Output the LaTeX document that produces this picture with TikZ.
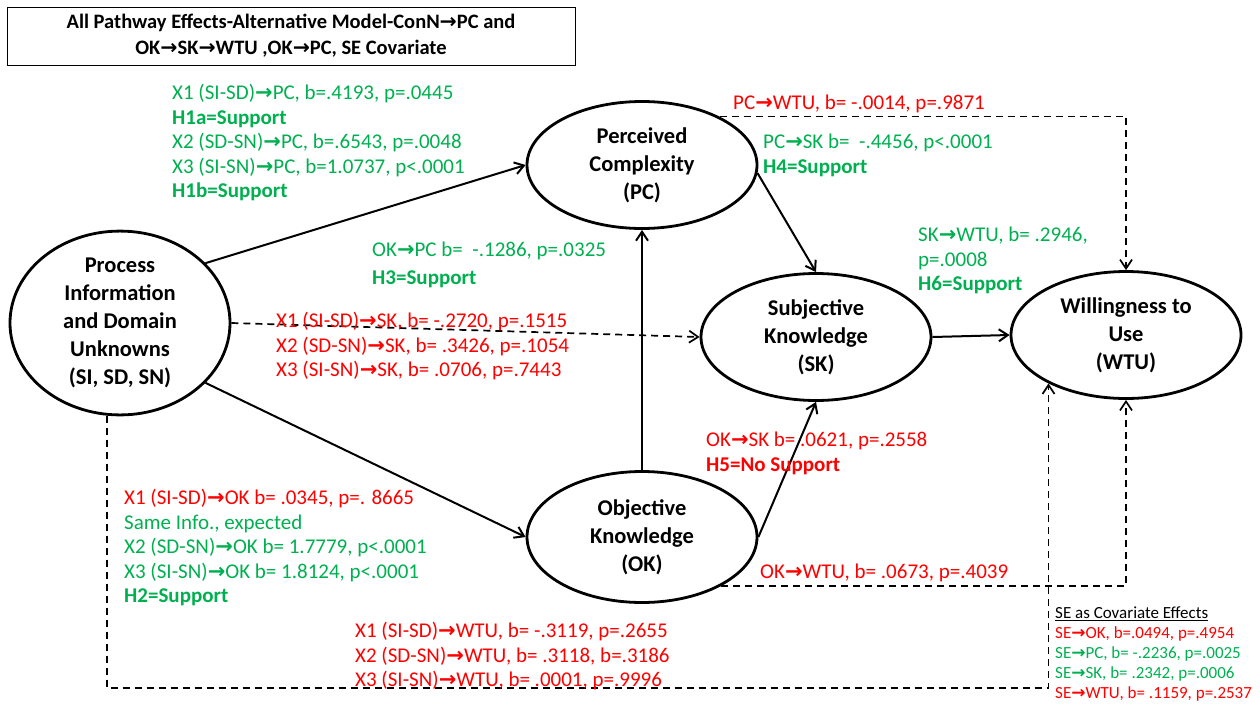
\documentclass[tikz,border=0pt]{standalone}
\usepackage{fontspec}
\setmainfont{Carlito}
\newfontfamily\arrowfont{DejaVu Sans}
\usepackage{xcolor}
\usetikzlibrary{arrows.meta, shapes.geometric, positioning}
\definecolor{SigGreen}{HTML}{00B050}
\definecolor{NsRed}   {HTML}{FF0000}
\newcommand{\ra}{{\arrowfont\bfseries\char"2192}}

\tikzset{
  construct/.style={ellipse, draw, line width=2.8pt, inner sep=0pt, align=center,
                    minimum width=230pt, minimum height=127pt,
                    font=\fontsize{22.5}{28}\selectfont\bfseries},
  effect/.style={line width=2pt, -{Straight Barb[length=9pt,width=12pt]}},
  nseffect/.style={effect, line width=1.7pt, dash pattern=on 7pt off 5pt},
  stat/.style={anchor=north west, inner sep=0pt, align=left,
               font=\fontsize{21}{24.5}\selectfont},
  sig/.style={stat, text=SigGreen},
  ns/.style={stat, text=NsRed},
}

\begin{document}
\begin{tikzpicture}[x=1pt, y=-1pt]
  \useasboundingbox (0,0) rectangle (1260,707);
  % Title
  \node[draw, line width=0.8pt, minimum width=568pt, minimum height=58pt, align=center,
        font=\fontsize{20.5}{26}\selectfont\bfseries] (title) at (291,36)
    {All Pathway Effects-Alternative Model-ConN\ra PC and\\OK\ra SK\ra WTU ,OK\ra PC, SE Covariate};
  % Constructs
  \node[construct, minimum width=220pt, minimum height=157pt] (pi) at (120,323)
    {Process\\Information\\and Domain\\Unknowns\\(SI, SD, SN)};
  \node[construct] (pc)  at (642,165)  {Perceived\\Complexity\\(PC)};
  \node[construct] (sk)  at (816,337)  {Subjective\\Knowledge\\(SK)};
  \node[construct] (wtu) at (1126,335) {Willingness to\\Use\\(WTU)};
  \node[construct, minimum height=131pt] (ok) at (642,537) {Objective\\Knowledge\\(OK)};
  \coordinate (covLine) at (600,688);
  % Paths
  \draw[effect] (pi.35) -- (pc.west);
  \draw[effect] (pi.-35) -- (ok.west);
  \draw[nseffect] (pi.east) -- (sk.west);
  \draw[effect] (ok.north) -- (pc.south);
  \draw[effect] (pc.-4) -- (sk.north);
  \draw[effect] (ok.east) -- (sk.south);
  \draw[effect] (sk.east) -- (wtu.west);
  \draw[nseffect] (pc.32) -| (wtu.north);
  \draw[nseffect] (ok.-32) -| (wtu.south);
  \draw[nseffect] (pi.-98) |- (covLine) -| (wtu.-148);
  % Estimates
  \node[sig] (h1) at (172,84) {X1 (SI-SD)\ra PC, b=.4193, p=.0445\\\textbf{H1a=Support}\\
    X2 (SD-SN)\ra PC, b=.6543, p=.0048\\X3 (SI-SN)\ra PC, b=1.0737, p<.0001\\\textbf{H1b=Support}};
  \node[ns] (pcwtu) at (733,95) {PC\ra WTU, b= -.0014, p=.9871};
  \node[sig] (pcsk) at (763,134) {PC\ra SK b=\ \ -.4456, p<.0001\\\textbf{H4=Support}};
  \node[sig] (okpc) at (372,242) {OK\ra PC b=\ \ -.1286, p=.0325\\[3pt]\textbf{H3=Support}};
  \node[sig] (skwtu) at (918,227) {SK\ra WTU, b= .2946,\\p=.0008\\\textbf{H6=Support}};
  \node[ns] (pisk) at (276,312) {X1 (SI-SD)\ra SK, b= -.2720, p=.1515\\
    X2 (SD-SN)\ra SK, b= .3426, p=.1054\\X3 (SI-SN)\ra SK, b= .0706, p=.7443};
  \node[ns] (oksk) at (706,432) {OK\ra SK b= .0621, p=.2558\\\textbf{H5=No Support}};
  \node[ns] (piok) at (124,489) {X1 (SI-SD)\ra OK b= .0345, p=. 8665\\
    \textcolor{SigGreen}{Same Info., expected}\\
    \textcolor{SigGreen}{X2 (SD-SN)\ra OK b= 1.7779, p<.0001}\\
    \textcolor{SigGreen}{X3 (SI-SN)\ra OK b= 1.8124, p<.0001}\\
    \textcolor{SigGreen}{\textbf{H2=Support}}};
  \node[ns] (okwtu) at (760,564) {OK\ra WTU, b= .0673, p=.4039};
  \node[ns] (piwtu) at (355,622) {X1 (SI-SD)\ra WTU, b= -.3119, p=.2655\\
    X2 (SD-SN)\ra WTU, b= .3118, b=.3186\\X3 (SI-SN)\ra WTU, b= .0001, p=.9996};
  % SE covariate
  \node[stat, font=\fontsize{17}{20}\selectfont] (se) at (1055,607)
    {\underline{SE as Covariate Effects}\\
     \textcolor{NsRed}{SE\ra OK, b=.0494, p=.4954}\\
     \textcolor{SigGreen}{SE\ra PC, b= -.2236, p=.0025}\\
     \textcolor{SigGreen}{SE\ra SK, b= .2342, p=.0006}\\
     \textcolor{NsRed}{SE\ra WTU, b= .1159, p=.2537}};
\end{tikzpicture}
\end{document}
